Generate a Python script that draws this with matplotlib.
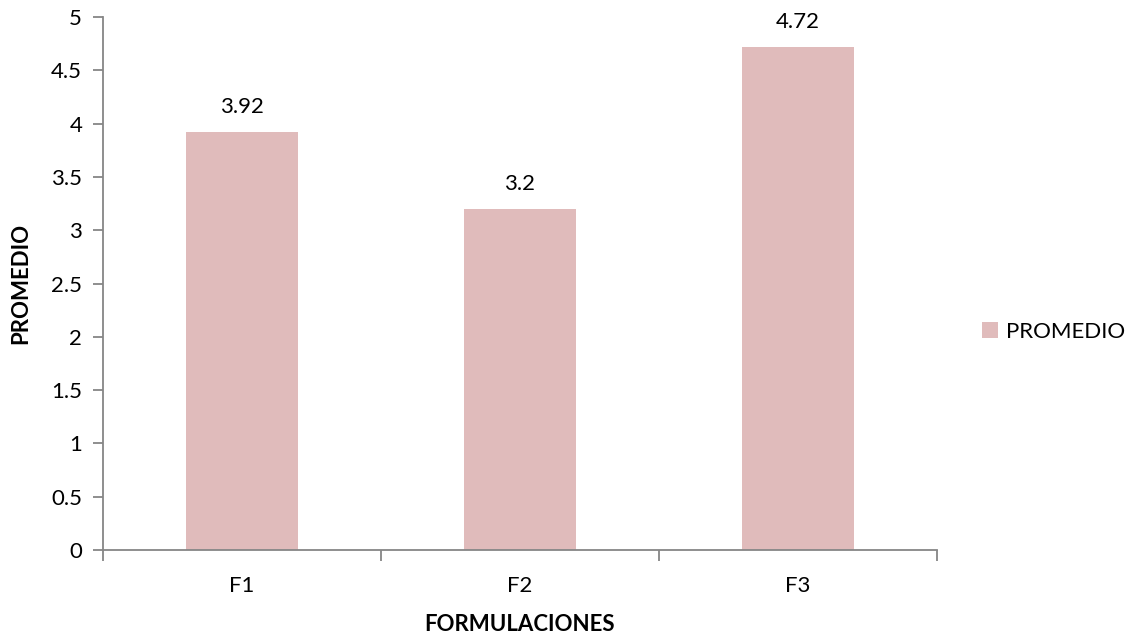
import matplotlib
matplotlib.use("Agg")
import matplotlib.pyplot as plt
import numpy as np

categories = ["F1", "F2", "F3"]
promedio = [3.92, 3.2, 4.72]
series_name = "PROMEDIO"
y_ticks = [0, 0.5, 1, 1.5, 2, 2.5, 3, 3.5, 4, 4.5, 5]
y_tick_labels = ["0", "0.5", "1", "1.5", "2", "2.5", "3", "3.5", "4", "4.5", "5"]

plt.rcParams["font.family"] = ["Lato", "DejaVu Sans"]
bar_color = "#E0BBBB"
axis_color = "#868686"
fs = 16

fig = plt.figure(figsize=(11.32, 6.4), dpi=100)
ax = fig.add_axes([103 / 1132, 1 - 550 / 640, (937 - 103) / 1132, (550 - 17) / 640])

x = np.arange(len(categories))
bars = ax.bar(x, promedio, width=0.4, color=bar_color, label=series_name, zorder=2)
for rect, v in zip(bars, promedio):
    ax.annotate(f"{v:g}", (rect.get_x() + rect.get_width() / 2, v),
                xytext=(0, 11), textcoords="offset points",
                ha="center", va="bottom", fontsize=fs, color="black")

ax.set_xlim(-0.5, len(categories) - 0.5)
ax.set_ylim(0, 5)
ax.set_yticks(y_ticks)
ax.set_yticklabels(y_tick_labels)
ax.set_xticks(x)
ax.set_xticklabels(categories)
ax.set_xticks(np.arange(len(categories) + 1) - 0.5, minor=True)

for side in ("top", "right"):
    ax.spines[side].set_visible(False)
for side in ("left", "bottom"):
    ax.spines[side].set_color(axis_color)
    ax.spines[side].set_linewidth(1.3)

ax.tick_params(axis="y", which="major", length=7, width=1.3, color=axis_color,
               labelsize=fs, pad=8, labelcolor="black")
ax.tick_params(axis="x", which="major", length=0, labelsize=fs, pad=19, labelcolor="black")
ax.tick_params(axis="x", which="minor", length=8, width=1.3, color=axis_color)

ax.set_xlabel("FORMULACIONES", fontsize=fs, fontweight="bold", labelpad=13)
ax.set_ylabel("PROMEDIO", fontsize=fs, fontweight="bold", labelpad=14)

leg = fig.legend(handles=[bars], labels=[series_name], loc="center left",
                 bbox_to_anchor=(962 / 1132, 1 - 332 / 640), frameon=False,
                 fontsize=fs, handlelength=0.7, handleheight=0.7, handletextpad=0.4)

fig.savefig("out.png", dpi=100, facecolor="white")
